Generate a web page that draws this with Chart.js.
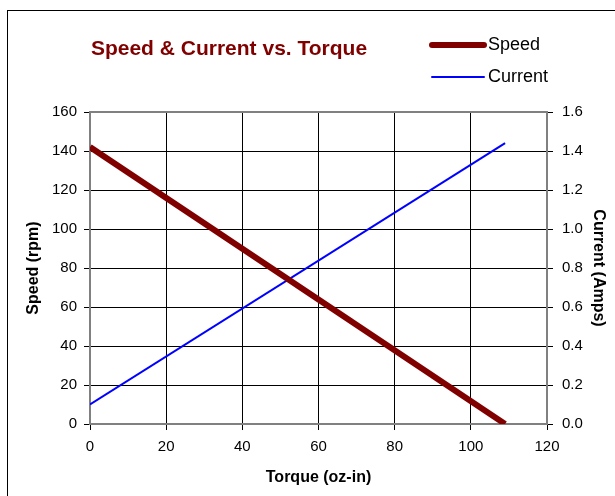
<!DOCTYPE html>
<html>
<head>
<meta charset="utf-8">
<script src="https://cdn.jsdelivr.net/npm/chart.js@4/dist/chart.umd.min.js"></script>
<style>
  body { margin: 0; background: #fff; }
  canvas { display: block; }
</style>
</head>
<body>
<canvas id="motorChart" width="615" height="496"></canvas>
<script>
// data
var torque = [0, 109];
var speed = [142, 0];
var current = [0.10, 1.44];

var FONT = "'Liberation Sans', Arial, sans-serif";

// frame, title, legend and top border of the plot
var decor = {
  id: 'decor',
  beforeDraw: function(chart) {
    var ctx = chart.ctx;
    ctx.save();
    ctx.fillStyle = '#fff';
    ctx.fillRect(0, 0, chart.width, chart.height);
    ctx.strokeStyle = '#000';
    ctx.lineWidth = 1;
    ctx.strokeRect(7.5, 10.5, 700, 600);
    ctx.restore();
  },
  afterDraw: function(chart) {
    var ctx = chart.ctx;
    var a = chart.chartArea;
    ctx.save();
    // top border
    ctx.strokeStyle = '#808080';
    ctx.lineWidth = 2;
    ctx.beginPath();
    ctx.moveTo(a.left, a.top);
    ctx.lineTo(a.right, a.top);
    ctx.stroke();

    // title
    ctx.fillStyle = '#800000';
    ctx.font = 'bold 21px ' + FONT;
    ctx.textAlign = 'center';
    ctx.textBaseline = 'middle';
    ctx.fillText('Speed & Current vs. Torque', 229, 49);

    // legend
    var rows = [45, 77];
    ctx.font = '18px ' + FONT;
    ctx.textAlign = 'left';
    chart.data.datasets.forEach(function(ds, i) {
      ctx.strokeStyle = ds.borderColor;
      ctx.lineWidth = ds.borderWidth;
      ctx.lineCap = 'round';
      ctx.beginPath();
      ctx.moveTo(432, rows[i]);
      ctx.lineTo(484, rows[i]);
      ctx.stroke();
      ctx.fillStyle = '#000';
      ctx.fillText(ds.label, 488, rows[i]);
    });
    ctx.restore();
  }
};

var ctx = document.getElementById('motorChart').getContext('2d');
var motorChart = new Chart(ctx, {
  type: 'line',
  data: {
    datasets: [{
      label: 'Speed',
      data: torque.map(function(t, i) { return { x: t, y: speed[i] }; }),
      borderColor: '#800000',
      borderWidth: 6,
      yAxisID: 'y',
      pointRadius: 0
    },
    {
      label: 'Current',
      data: torque.map(function(t, i) { return { x: t, y: current[i] }; }),
      borderColor: '#0000ff',
      borderWidth: 2,
      yAxisID: 'y1',
      pointRadius: 0
    }]
  },
  options: {
    responsive: false,
    animation: false,
    layout: { padding: { top: 112 } },
    plugins: {
      legend: { display: false },
      title: { display: false },
      tooltip: { enabled: false }
    },
    scales: {
      x: {
        type: 'linear',
        min: 0,
        max: 120,
        afterFit: function(s) { s.height = 72; },
        ticks: { stepSize: 20, color: '#000', padding: 8, font: { family: FONT, size: 15 } },
        grid: { color: '#000', tickLength: 6 },
        border: { color: '#808080', width: 2 },
        title: {
          display: true,
          text: 'Torque (oz-in)',
          color: '#000',
          font: { family: FONT, size: 16, weight: 'bold' },
          padding: { bottom: 9 }
        }
      },
      y: {
        position: 'left',
        min: 0,
        max: 160,
        afterFit: function(s) { s.width = 90; },
        ticks: { stepSize: 20, color: '#000', padding: 7, font: { family: FONT, size: 15 } },
        grid: { color: '#000', tickLength: 6 },
        border: { color: '#808080', width: 2 },
        title: {
          display: true,
          text: 'Speed (rpm)',
          color: '#000',
          font: { family: FONT, size: 16, weight: 'bold' },
          padding: { top: 24 }
        }
      },
      y1: {
        position: 'right',
        min: 0,
        max: 1.6,
        afterFit: function(s) { s.width = 68; },
        ticks: {
          stepSize: 0.2,
          color: '#000',
          padding: 9,
          font: { family: FONT, size: 15 },
          callback: function(v) { return v.toFixed(1); }
        },
        grid: { color: '#000', tickLength: 6, drawOnChartArea: false },
        border: { color: '#808080', width: 2 },
        title: {
          display: true,
          text: 'Current (Amps)',
          color: '#000',
          font: { family: FONT, size: 16, weight: 'bold' },
          padding: { top: 7 }
        }
      }
    }
  },
  plugins: [decor]
});
</script>
</body>
</html>
